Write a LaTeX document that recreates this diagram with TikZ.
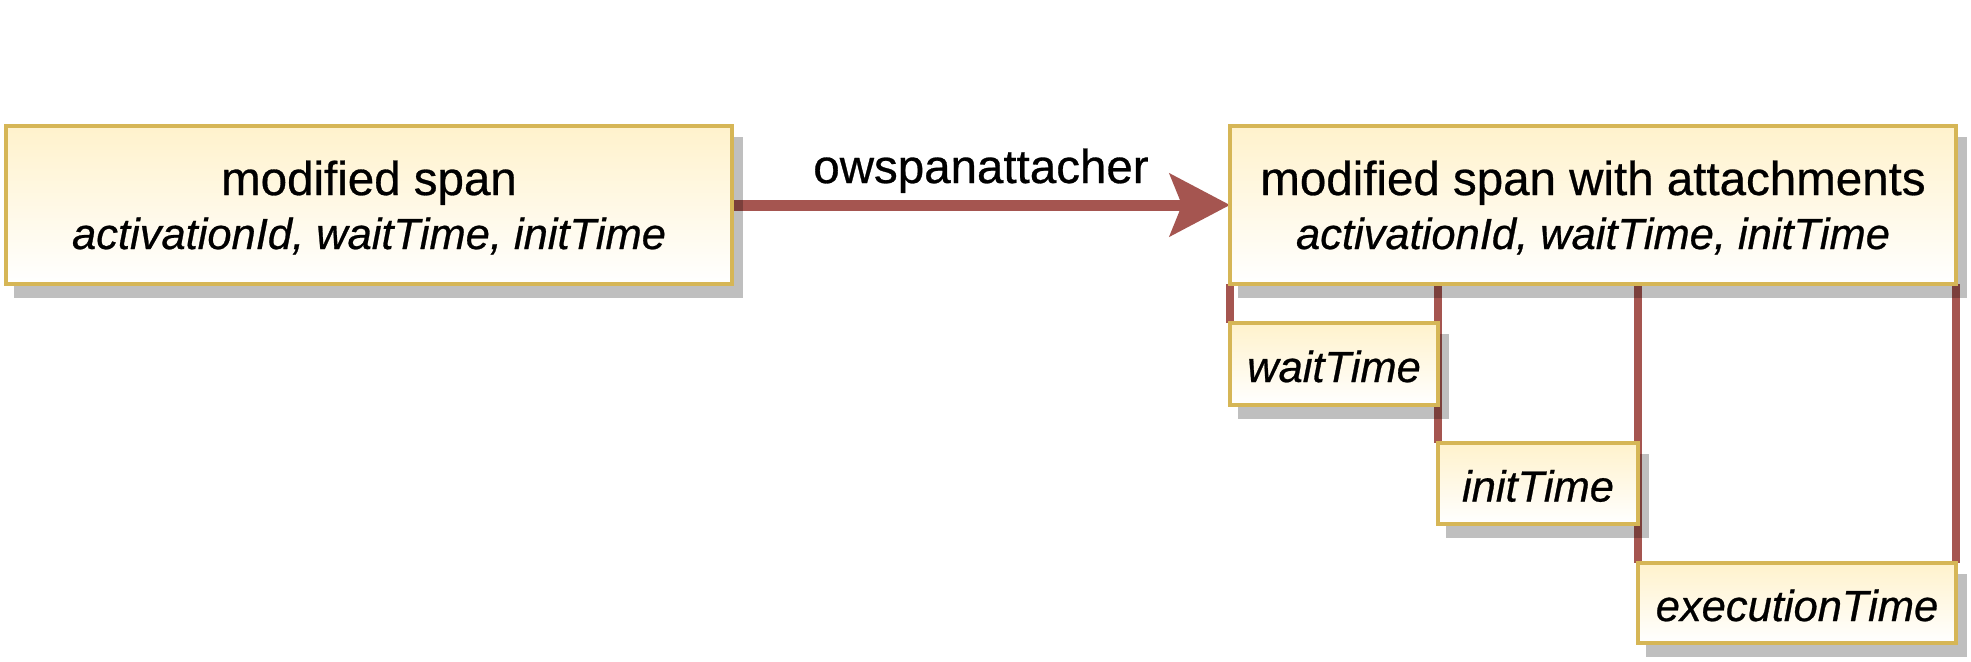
\documentclass[tikz,border=0pt]{standalone}
\usepackage{fontspec}
\setmainfont{Liberation Sans}[FakeBold=0.6]
\usetikzlibrary{arrows.meta,calc}
\pgfdeclarelayer{bg}
\pgfdeclarelayer{lines}
\pgfdeclarelayer{shadowl}
\pgfsetlayers{bg,lines,shadowl,main}
\definecolor{boxline}{HTML}{D6B656}
\definecolor{boxfill}{HTML}{FFF2CC}
\definecolor{edgec}{RGB}{165,85,80}
\tikzset{
  box/.style={draw=boxline, line width=2pt, top color=boxfill, bottom color=white,
    inner sep=0pt, outer sep=0pt, anchor=north west},
  titletext/.style={font=\fontsize{23.75}{28}\selectfont, anchor=base, inner sep=0pt},
  ittext/.style={font=\fontsize{21.75}{26}\selectfont\itshape, anchor=base, inner sep=0pt},
  shadowbox/.style={fill=black, opacity=0.25},
  link/.style={draw=edgec, line width=4pt},
  mainarrow/.style={draw=edgec, line width=5.5pt, -{Stealth[length=30pt, width=31pt, inset=6pt]}},
}
\begin{document}
\begin{tikzpicture}[x=0.5pt, y=-0.5pt]
\useasboundingbox (0,0) rectangle (1971,661);
\begin{pgfonlayer}{bg}
\fill[white] (0,0) rectangle (1971,661);
\end{pgfonlayer}

% boxes
\node[box, minimum width=363pt, minimum height=79pt] (A) at (6,126) {};
\node[box, minimum width=363pt, minimum height=79pt] (B) at (1230,126) {};
\node[box, minimum width=104pt, minimum height=41pt] (wait) at (1230,323) {};
\node[box, minimum width=100pt, minimum height=40.5pt] (init) at (1438,443) {};
\node[box, minimum width=159pt, minimum height=40pt] (exec) at (1638,563) {};

% texts
\node[titletext] (Atitle) at ($(A.north)+(0,69)$) {modified span};
\node[ittext] (Aattr) at ($(A.north)+(0,123)$) {activationId, waitTime, initTime};
\node[titletext] (Btitle) at ($(B.north)+(0,69)$) {modified span with attachments};
\node[ittext] (Battr) at ($(B.north)+(0,123)$) {activationId, waitTime, initTime};
\node[ittext] (waitlbl) at ($(wait.center)+(0,18)$) {waitTime};
\node[ittext] (initlbl) at ($(init.center)+(0,18)$) {initTime};
\node[ittext] (execlbl) at ($(exec.center)+(0,18)$) {executionTime};

% shadows
\begin{pgfonlayer}{shadowl}
\foreach \n in {A,B,wait,init,exec}
  \fill[shadowbox] ([shift={(8,11)}]\n.north west) rectangle ([shift={(11,14)}]\n.south east);
\end{pgfonlayer}

% connectors
\begin{pgfonlayer}{lines}
\draw[mainarrow] (A.east) -- node[titletext, pos=0.5, yshift=11pt] (arrowlbl) {owspanattacher} (B.west);
\draw[link] (B.south west) -- (wait.north west);
\draw[link] (wait.north east |- B.south) -- (init.north west);
\draw[link] (init.north east |- B.south) -- (exec.north west);
\draw[link] (B.south east) -- (exec.north east);
\end{pgfonlayer}
\end{tikzpicture}
\end{document}
